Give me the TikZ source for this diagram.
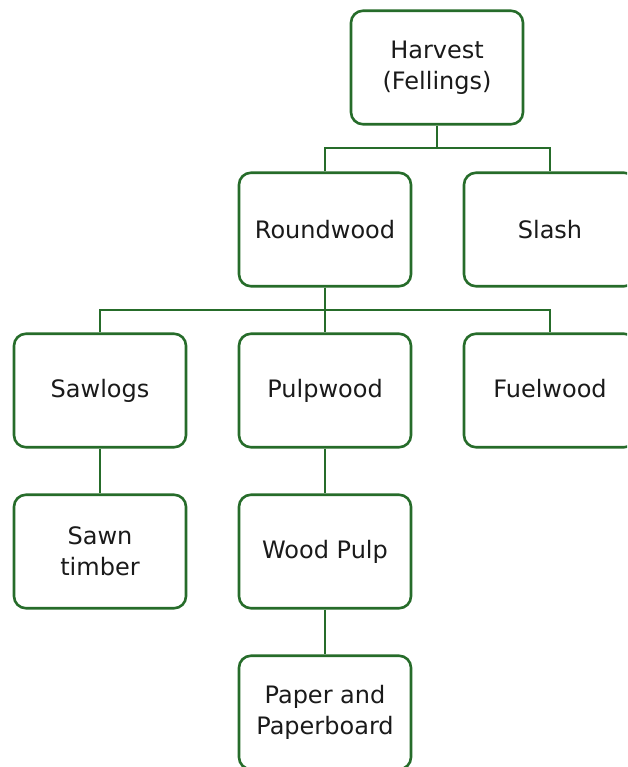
\documentclass[tikz,border=0pt]{standalone}
\usepackage{fontspec}
\setmainfont{DejaVu Sans}
\definecolor{forest}{RGB}{38,108,42}
\definecolor{ink}{RGB}{26,26,26}
\tikzset{
  box/.style={draw=forest, line width=2.6pt, rounded corners=12pt, fill=white,
    minimum width=172pt, minimum height=113.5pt, align=center, text=ink,
    font=\fontsize{24}{31}\selectfont},
  link/.style={draw=forest, line width=1.6pt}
}
\begin{document}
\begin{tikzpicture}[x=1pt, y=-1pt]
  \useasboundingbox (0,0) rectangle (627,767);
  \clip (0,0) rectangle (627,767);
  % tree nodes
  \node[box] (harvest)   at (437,67.5)  {Harvest\\(Fellings)};
  \node[box] (roundwood) at (325,229.5) {Roundwood};
  \node[box] (slash)     at (550,229.5) {Slash};
  \node[box] (sawlogs)   at (100,390.5) {Sawlogs};
  \node[box] (pulpwood)  at (325,390.5) {Pulpwood};
  \node[box] (fuelwood)  at (550,390.5) {\vphantom{p}Fuelwood};
  \node[box] (sawn)      at (100,551.5) {Sawn\\timber};
  \node[box] (woodpulp)  at (325,551.5) {Wood Pulp};
  \node[box] (paper)     at (325,712.5) {Paper and\\Paperboard};
  % branch junctions
  \coordinate (j1) at (437,148);
  \coordinate (j2) at (325,310);
  % connectors
  \draw[link] (harvest.south) -- (j1);
  \draw[link] (roundwood.north) |- (j1) -| (slash.north);
  \draw[link] (roundwood.south) -- (pulpwood.north);
  \draw[link] (sawlogs.north) |- (j2) -| (fuelwood.north);
  \draw[link] (sawlogs.south) -- (sawn.north);
  \draw[link] (pulpwood.south) -- (woodpulp.north);
  \draw[link] (woodpulp.south) -- (paper.north);
\end{tikzpicture}
\end{document}
